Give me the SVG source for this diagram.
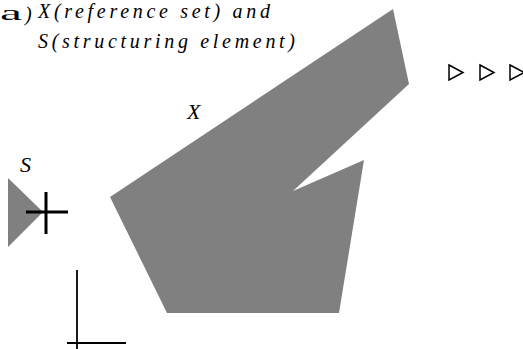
<svg xmlns="http://www.w3.org/2000/svg" width="523" height="349" viewBox="0 0 523 349">
<style>
.shape{fill:#808080;stroke:none}
.lbl{font-family:"Liberation Serif",serif;font-style:italic;fill:#000}
.tri{fill:none;stroke:#000;stroke-width:1.5;stroke-linejoin:miter}
.ln{stroke:#000;fill:none}
</style>
<rect width="523" height="349" fill="#fff"/>
<g id="title">
<text x="0" y="20" font-family="Liberation Serif, serif" font-size="22" textLength="22" lengthAdjust="spacingAndGlyphs">a</text>
<text x="25" y="21" class="lbl" font-style="normal" font-size="20">)</text>
<text x="38" y="18" class="lbl" font-size="20" textLength="232" lengthAdjust="spacing">X(reference set) and</text>
<text x="38" y="48" class="lbl" font-size="20" textLength="257" lengthAdjust="spacing">S(structuring element)</text>
</g>
<g id="X">
<polygon class="shape" points="393,9 409,84 293,191 364,160 339,313 167,313 110,197"/>
<text x="187" y="119" class="lbl" font-size="22">X</text>
</g>
<g id="S">
<polygon class="shape" points="8,178 43,212 8,247"/>
<line class="ln" x1="26" y1="212" x2="68" y2="212" stroke-width="3"/>
<line class="ln" x1="46" y1="192" x2="46" y2="234" stroke-width="3"/>
<text x="20" y="172" class="lbl" font-size="22">S</text>
</g>
<g id="axes">
<line class="ln" x1="77" y1="270" x2="77" y2="349" stroke-width="1.8"/>
<line class="ln" x1="67" y1="343" x2="126" y2="343" stroke-width="1.8"/>
</g>
<g id="ellipsis">
<polygon class="tri" points="449,65 463,72.5 449,80"/>
<polygon class="tri" points="480,65 494,72.5 480,80"/>
<polygon class="tri" points="510,65 524,72.5 510,80"/>
</g>
</svg>
